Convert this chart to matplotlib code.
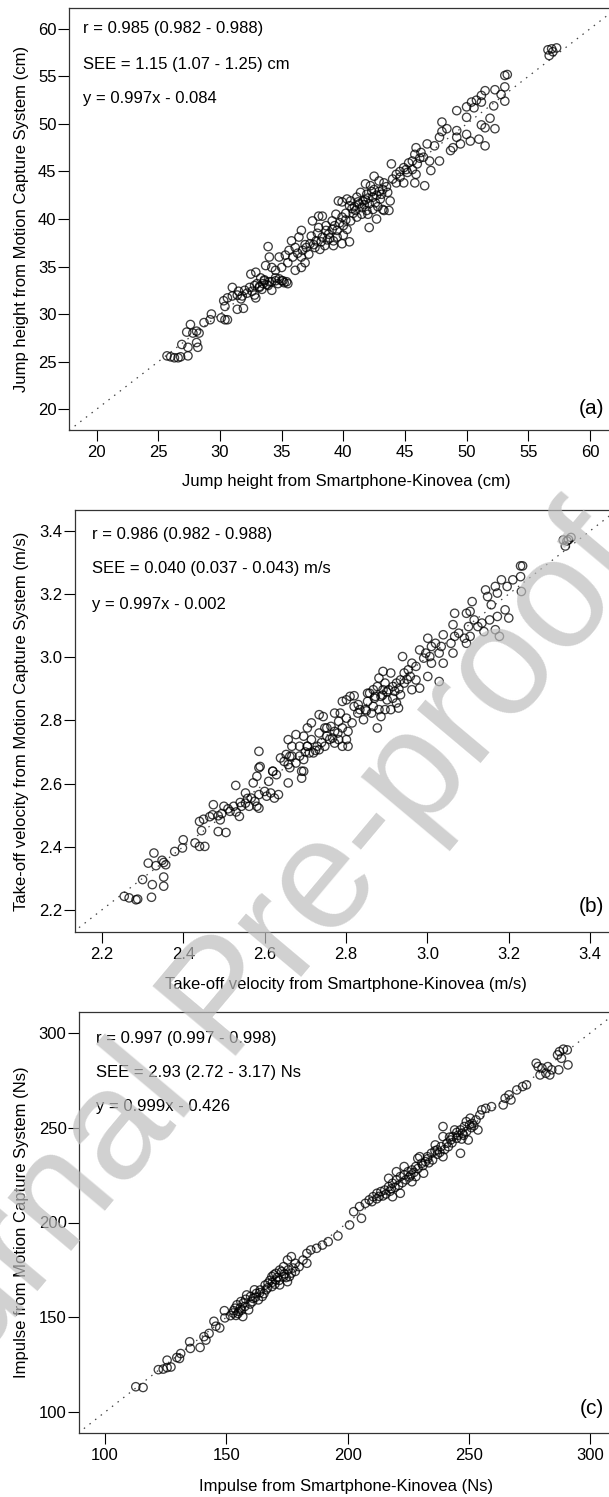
import numpy as np
import matplotlib
matplotlib.use("Agg")
import matplotlib.pyplot as plt

plt.rcParams["font.family"] = ["Liberation Sans", "DejaVu Sans"]

W, H = 609, 1497   # output size in px (dpi 100)

# ── data (x = Smartphone-Kinovea, y = Motion Capture) ──
jump_pts = [
    (25.7, 25.6), (26.0, 25.5), (26.3, 25.4), (26.6, 25.4), (26.8, 25.5), (27.4, 25.6),
    (26.9, 26.8), (27.4, 26.5), (28.1, 27.0), (28.2, 26.5),
    (27.3, 28.1), (27.6, 28.9), (27.8, 28.0), (28.1, 28.2), (28.3, 28.0),
    (28.7, 29.1), (29.3, 30.0), (29.2, 29.4), (30.1, 29.6), (30.4, 29.4), (30.6, 29.4),
    (30.3, 31.4), (30.4, 30.8), (30.6, 31.7), (31.0, 31.9), (31.0, 32.8), (31.4, 32.0),
    (31.4, 30.5), (31.9, 30.6), (31.5, 32.4), (31.8, 31.9), (32.2, 32.2), (32.4, 32.8),
    (32.8, 32.0), (32.9, 31.7), (31.7, 31.6), (32.0, 32.5), (32.6, 32.4),
    (33.0, 33.2), (33.2, 32.9), (33.3, 33.8), (33.5, 33.2), (33.6, 33.6), (33.8, 33.1),
    (34.0, 33.4), (34.2, 32.5), (34.5, 33.8), (34.8, 33.7), (35.0, 33.5), (35.2, 33.3),
    (35.4, 33.4), (33.6, 33.5), (34.2, 33.4), (34.5, 33.5), (35.1, 33.5), (35.5, 33.2),
    (32.8, 33.0), (33.2, 32.8), (33.9, 33.0), (34.7, 33.2), (33.4, 32.6),
    (33.9, 37.1), (33.7, 35.1), (34.0, 36.0), (34.2, 34.9), (34.5, 34.6), (35.0, 34.9),
    (35.5, 35.4), (35.3, 36.2), (34.8, 36.0), (32.9, 34.4), (32.5, 34.2), (36.1, 34.6),
    (36.6, 34.9), (36.9, 35.4),
    (35.6, 36.7), (35.8, 37.7), (36.1, 37.0), (36.7, 36.7), (37.2, 36.3), (35.9, 36.0),
    (36.6, 36.0), (36.4, 38.1), (36.6, 38.8), (36.3, 36.4), (36.9, 37.3),
    (37.0, 37.0), (37.3, 37.4), (37.7, 37.0), (38.1, 36.8), (38.5, 37.2), (37.8, 37.7),
    (38.3, 38.1), (38.8, 38.4), (39.2, 37.7), (39.2, 37.2), (39.9, 37.4), (40.5, 37.6),
    (39.5, 38.1), (40.0, 38.3), (38.0, 39.1), (38.6, 38.8), (37.5, 39.8), (38.0, 40.3),
    (38.3, 40.3), (39.4, 40.5), (39.9, 40.2), (39.1, 39.8), (38.6, 39.3), (39.1, 38.9),
    (39.5, 38.8), (40.0, 39.3), (40.3, 38.9), (37.9, 38.5), (38.9, 38.0), (37.4, 38.2),
    (37.6, 37.3), (38.2, 37.6), (38.7, 37.8), (39.7, 39.6), (40.2, 39.9), (39.3, 39.3),
    (39.6, 41.9), (39.9, 41.8), (40.3, 42.1), (40.5, 41.4), (40.6, 41.9), (41.0, 40.9),
    (41.1, 42.3), (41.4, 42.8), (41.5, 40.5), (41.6, 41.9), (41.1, 40.2), (40.6, 39.8),
    (41.9, 42.6), (41.9, 40.9), (42.1, 41.6), (42.1, 39.1), (42.4, 42.3), (42.4, 41.0),
    (42.6, 41.7), (42.7, 40.0), (43.0, 42.1), (43.2, 43.1), (43.2, 41.0), (43.3, 43.8),
    (43.3, 40.9), (43.6, 42.8), (43.7, 40.9), (43.8, 41.9), (42.9, 44.0), (42.5, 44.5),
    (41.8, 43.7), (42.2, 43.5), (40.9, 41.3), (41.3, 41.6), (41.8, 42.0), (42.0, 42.2),
    (42.7, 42.5), (42.3, 42.9), (41.5, 41.2), (40.8, 40.6), (42.9, 42.9), (43.5, 43.4),
    (40.2, 40.6), (41.2, 41.8), (42.0, 40.5), (42.8, 41.3), (43.1, 42.6), (41.7, 41.5),
    (40.7, 41.1), (42.5, 43.1),
    (43.9, 45.8), (44.3, 44.7), (44.3, 43.8), (44.6, 44.4), (44.9, 45.4), (44.9, 43.8),
    (45.1, 45.2), (45.2, 44.9), (45.6, 45.2), (45.9, 44.7), (45.8, 43.8), (44.0, 44.2),
    (44.6, 45.0), (45.3, 45.9),
    (45.9, 47.5), (46.3, 47.0), (46.8, 47.9), (45.6, 46.1), (46.0, 45.8), (46.5, 46.5),
    (47.0, 46.1), (47.1, 45.1), (46.6, 43.5), (47.8, 46.1), (46.2, 46.4), (45.8, 46.8),
    (47.4, 47.7), (47.8, 48.6), (48.0, 50.2), (48.0, 49.2), (48.4, 49.5), (48.7, 47.2),
    (48.9, 47.5), (49.2, 48.6), (49.2, 49.3), (49.2, 51.4), (49.5, 47.9), (50.0, 48.9),
    (50.0, 50.7), (50.0, 51.8), (50.3, 48.2), (50.4, 52.3), (50.6, 51.7), (50.8, 52.5),
    (51.0, 48.4), (51.2, 49.9), (51.2, 52.3), (51.2, 53.0), (51.5, 53.5), (51.5, 49.6),
    (51.5, 47.7), (51.9, 50.6), (52.2, 51.9), (52.3, 53.6), (52.3, 49.5), (52.8, 53.1),
    (53.1, 53.9), (53.1, 52.4), (53.1, 55.1), (53.3, 55.2),
    (56.6, 57.8), (56.9, 57.9), (57.3, 58.0), (56.7, 57.2), (57.0, 57.6),
]

velocity_pts = [
    (2.255, 2.243), (2.267, 2.238), (2.284, 2.232), (2.288, 2.234), (2.322, 2.240),
    (2.300, 2.296), (2.324, 2.280), (2.352, 2.275), (2.352, 2.304), (2.314, 2.348),
    (2.328, 2.380), (2.333, 2.340), (2.348, 2.357), (2.357, 2.343), (2.352, 2.350),
    (2.379, 2.385), (2.400, 2.422), (2.398, 2.396), (2.429, 2.412), (2.440, 2.401),
    (2.453, 2.401), (2.445, 2.451), (2.440, 2.480), (2.450, 2.487), (2.472, 2.501),
    (2.486, 2.448), (2.505, 2.445), (2.474, 2.533), (2.486, 2.498), (2.491, 2.485),
    (2.500, 2.528), (2.515, 2.512), (2.524, 2.528), (2.538, 2.496), (2.543, 2.528),
    (2.529, 2.594), (2.553, 2.570), (2.553, 2.538), (2.567, 2.554), (2.576, 2.544),
    (2.562, 2.528), (2.581, 2.528), (2.586, 2.565), (2.605, 2.560), (2.586, 2.522),
    (2.572, 2.602), (2.581, 2.623), (2.586, 2.702), (2.589, 2.654), (2.610, 2.607),
    (2.615, 2.570), (2.624, 2.554), (2.634, 2.565), (2.620, 2.639), (2.629, 2.628),
    (2.658, 2.602), (2.691, 2.617), (2.658, 2.660), (2.648, 2.670), (2.662, 2.686),
    (2.677, 2.665), (2.691, 2.639), (2.696, 2.676), (2.710, 2.697), (2.720, 2.697),
    (2.734, 2.707), (2.705, 2.718), (2.495, 2.505), (2.510, 2.520), (2.465, 2.495),
    (2.530, 2.510), (2.558, 2.553), (2.600, 2.575),
    (2.653, 2.692), (2.667, 2.687), (2.639, 2.681), (2.662, 2.650), (2.686, 2.687),
    (2.696, 2.639), (2.667, 2.718), (2.658, 2.739), (2.677, 2.755), (2.686, 2.718),
    (2.696, 2.750), (2.705, 2.718), (2.715, 2.739), (2.705, 2.776), (2.715, 2.792),
    (2.734, 2.760), (2.729, 2.718), (2.748, 2.718), (2.734, 2.818), (2.744, 2.812),
    (2.748, 2.776), (2.753, 2.750), (2.767, 2.744), (2.772, 2.728), (2.782, 2.739),
    (2.791, 2.718), (2.801, 2.739), (2.805, 2.718), (2.753, 2.776), (2.763, 2.781),
    (2.772, 2.765), (2.791, 2.776), (2.805, 2.765), (2.782, 2.797), (2.772, 2.823),
    (2.786, 2.823), (2.801, 2.807), (2.815, 2.792), (2.791, 2.860), (2.801, 2.865),
    (2.810, 2.876), (2.820, 2.878), (2.820, 2.844), (2.829, 2.823), (2.834, 2.834),
    (2.843, 2.802), (2.848, 2.834), (2.853, 2.860), (2.853, 2.886), (2.858, 2.886),
    (2.863, 2.823), (2.867, 2.844), (2.867, 2.897), (2.872, 2.876), (2.877, 2.907),
    (2.877, 2.776), (2.881, 2.834), (2.881, 2.934), (2.886, 2.812), (2.886, 2.876),
    (2.891, 2.955), (2.891, 2.897), (2.896, 2.918), (2.896, 2.834), (2.901, 2.865),
    (2.905, 2.897), (2.910, 2.950), (2.910, 2.834), (2.915, 2.907), (2.915, 2.870),
    (2.920, 2.892), (2.924, 2.918), (2.924, 2.855), (2.929, 2.839), (2.934, 2.928),
    (2.934, 2.881), (2.939, 3.002), (2.943, 2.950), (2.943, 2.918), (2.953, 2.960),
    (2.958, 2.939), (2.962, 2.981), (2.962, 2.897), (2.972, 2.971), (2.972, 2.928),
    (2.981, 3.023), (2.981, 2.902), (2.991, 2.997), (2.996, 3.013), (3.001, 3.060),
    (3.001, 2.939), (3.006, 3.002), (3.010, 3.034), (3.010, 2.981), (3.020, 3.044),
    (3.029, 3.013), (3.029, 2.923), (3.034, 3.034), (3.039, 3.071), (3.039, 2.981),
    (3.058, 3.044), (3.063, 3.013), (3.063, 3.103), (3.067, 3.066), (3.067, 3.139),
    (3.077, 3.076), (3.091, 3.060), (3.096, 3.139), (3.096, 3.044), (3.101, 3.097),
    (3.105, 3.145), (3.105, 3.066), (3.110, 3.176), (3.115, 3.118), (3.124, 3.097),
    (3.134, 3.108), (3.139, 3.081), (3.143, 3.213), (3.148, 3.192), (3.153, 3.118),
    (3.157, 3.166), (3.167, 3.224), (3.167, 3.087), (3.172, 3.203), (3.172, 3.129),
    (3.177, 3.066), (3.182, 3.245), (3.191, 3.150), (3.196, 3.224), (3.200, 3.124),
    (3.210, 3.245), (3.229, 3.289), (3.234, 3.289), (3.229, 3.255), (3.231, 3.208),
    (3.334, 3.371), (3.343, 3.368), (3.353, 3.379), (3.339, 3.352), (3.347, 3.372),
    (2.586, 2.650), (2.620, 2.639), (2.540, 2.540), (2.700, 2.700), (2.725, 2.705),
    (2.740, 2.730), (2.760, 2.740), (2.780, 2.760), (2.830, 2.850), (2.850, 2.830),
    (2.870, 2.870), (2.890, 2.880), (2.900, 2.890), (2.930, 2.900), (2.950, 2.930),
]

impulse_pts = [
    (112.7, 113.4), (115.7, 113.0), (122.0, 122.4), (124.0, 122.7), (125.6, 123.5),
    (127.2, 123.8), (125.6, 127.4), (129.6, 128.8), (131.2, 130.9), (130.7, 128.3),
    (134.9, 137.1), (135.2, 133.6), (139.2, 134.1), (140.8, 139.8), (142.9, 141.5),
    (141.6, 138.0), (144.9, 147.9), (145.7, 145.3), (147.3, 144.4), (149.2, 153.5),
    (149.4, 149.7), (151.7, 150.9), (152.8, 152.3), (153.6, 154.8), (154.4, 156.6),
    (155.2, 153.1), (156.0, 158.3), (157.6, 155.7), (159.2, 153.9), (156.8, 150.4),
    (160.0, 161.0), (160.8, 158.3), (162.4, 162.6), (163.2, 159.2), (164.8, 161.0),
    (166.4, 164.5), (167.2, 168.0), (168.8, 166.2), (170.4, 169.7), (172.0, 167.1),
    (173.6, 171.5), (175.2, 168.8), (176.8, 173.3), (178.4, 174.2), (169.6, 172.4),
    (172.8, 174.1), (161.6, 164.5), (158.4, 161.8),
    (153.0, 153.5), (154.8, 152.0), (155.8, 155.0), (157.0, 157.5), (158.0, 159.5),
    (159.8, 157.0), (161.0, 160.0), (163.8, 163.0), (165.5, 162.5), (167.0, 165.5),
    (168.0, 169.5), (170.0, 167.5), (171.0, 171.0), (174.0, 173.0), (175.5, 175.0),
    (177.5, 176.0), (154.0, 151.0), (156.3, 153.8), (162.0, 160.6), (164.0, 164.4),
    (166.0, 167.0), (169.0, 168.5), (171.8, 169.5), (174.6, 171.0),
    (178.4, 178.5), (176.8, 182.0), (175.2, 180.2), (173.6, 176.7), (172.0, 174.9),
    (170.4, 173.2), (168.8, 171.5), (181.6, 180.2), (183.2, 178.5), (180.0, 176.7),
    (176.0, 171.5), (183.2, 183.7), (184.8, 185.5), (187.2, 186.4), (189.6, 188.1),
    (192.0, 189.9), (196.0, 192.9), (200.8, 198.7),
    (202.5, 205.7), (204.9, 208.4), (205.7, 202.2), (207.3, 210.1), (208.9, 211.9),
    (210.5, 213.6), (212.1, 215.4), (213.7, 216.3), (215.3, 217.1), (216.9, 218.9),
    (218.5, 220.7), (220.1, 222.4), (221.7, 224.2), (223.3, 225.1), (224.9, 226.8),
    (226.5, 227.7), (228.1, 229.5), (230.5, 231.2), (229.7, 234.7), (232.1, 232.1),
    (232.9, 234.7), (234.5, 236.5), (236.1, 240.9), (236.9, 238.3), (238.5, 240.0),
    (239.3, 245.3), (240.9, 241.8), (242.5, 243.5), (243.3, 245.3), (244.1, 248.8),
    (244.9, 244.4), (246.5, 248.8), (247.3, 247.1), (248.1, 250.6), (248.9, 253.2),
    (250.5, 255.0), (251.3, 252.3), (252.9, 254.1), (254.5, 256.7), (255.3, 259.4),
    (256.9, 260.2), (259.3, 261.1),
    (216.9, 223.3), (220.1, 226.8), (223.3, 229.5), (228.9, 233.8), (226.5, 221.5),
    (221.7, 215.4), (218.5, 213.6), (228.1, 224.2), (231.3, 226.0), (239.3, 234.7),
    (246.5, 236.5), (249.7, 243.5), (253.7, 248.8), (239.3, 250.6),
    (210.0, 211.0), (212.0, 212.5), (214.5, 214.0), (217.5, 216.5), (219.5, 218.5),
    (222.5, 221.0), (224.0, 222.5), (226.0, 225.0), (229.0, 228.5), (231.0, 230.0),
    (233.5, 231.5), (235.0, 233.0), (237.0, 236.0), (240.0, 238.5), (241.5, 240.0),
    (243.0, 242.0), (245.5, 246.0), (247.0, 244.0), (249.0, 248.0), (251.0, 250.0),
    (213.0, 213.8), (215.8, 215.0), (218.0, 217.8), (221.0, 219.6), (225.5, 224.0),
    (227.3, 226.4), (233.0, 233.6), (236.0, 237.8), (238.0, 237.0), (242.0, 245.0),
    (245.0, 247.5), (247.8, 246.0), (250.2, 251.5), (252.0, 251.0),
    (264.1, 262.0), (264.9, 265.5), (266.5, 267.3), (267.3, 264.6), (269.7, 269.9),
    (272.1, 271.7), (273.7, 272.6),
    (277.7, 284.0), (278.5, 282.2), (279.3, 277.8), (280.1, 281.4), (281.7, 278.7),
    (282.5, 282.2), (283.3, 277.8), (284.1, 280.5), (286.5, 288.4), (287.0, 280.5),
    (287.3, 290.1), (288.1, 286.6), (288.9, 291.4), (290.5, 291.0), (290.8, 283.1),
]

jump_stats = ["r = 0.985 (0.982 - 0.988)", "SEE = 1.15 (1.07 - 1.25) cm", "y = 0.997x - 0.084"]
velocity_stats = ["r = 0.986 (0.982 - 0.988)", "SEE = 0.040 (0.037 - 0.043) m/s", "y = 0.997x - 0.002"]
impulse_stats = ["r = 0.997 (0.997 - 0.998)", "SEE = 2.93 (2.72 - 3.17) Ns", "y = 0.999x - 0.426"]

jump_ticks = [20, 25, 30, 35, 40, 45, 50, 55, 60]
velocity_ticks = [2.2, 2.4, 2.6, 2.8, 3.0, 3.2, 3.4]
impulse_ticks = [100, 150, 200, 250, 300]


def fx(px):
    return px / W


def fy(py):
    return 1 - py / H


panels = [
    dict(pts=jump_pts, stats=jump_stats, ticks=jump_ticks, fmt="{:.0f}",
         lim_x=(17.75, 62.2), lim_y=(17.8, 62.2),
         box=(69, 8, 430), text_x=83, text_y=(29, 64, 98),
         tag="(a)", tag_y=408, xlab_y=482,
         xlab="Jump height from Smartphone-Kinovea (cm)",
         ylab="Jump height from Motion Capture System (cm)"),
    dict(pts=velocity_pts, stats=velocity_stats, ticks=velocity_ticks, fmt="{:.1f}",
         lim_x=(2.134, 3.466), lim_y=(2.13, 3.466),
         box=(75, 510, 932), text_x=92, text_y=(535, 569, 604),
         tag="(b)", tag_y=907, xlab_y=985,
         xlab="Take-off velocity from Smartphone-Kinovea (m/s)",
         ylab="Take-off velocity from Motion Capture System (m/s)"),
    dict(pts=impulse_pts, stats=impulse_stats, ticks=impulse_ticks, fmt="{:.0f}",
         lim_x=(89.3, 311.0), lim_y=(89.0, 311.0),
         box=(79, 1012, 1433), text_x=96, text_y=(1039, 1073, 1107),
         tag="(c)", tag_y=1408, xlab_y=1487,
         xlab="Impulse from Smartphone-Kinovea (Ns)",
         ylab="Impulse from Motion Capture System (Ns)"),
]

fig = plt.figure(figsize=(W / 100, H / 100), dpi=100)

for p in panels:
    left, top, bottom = p["box"]
    right = 617   # right frame sits just beyond the image edge
    ax = fig.add_axes([fx(left), fy(bottom), (right - left) / W, (bottom - top) / H])
    xy = np.array(p["pts"])
    lo = min(p["lim_x"][0], p["lim_y"][0])
    hi = max(p["lim_x"][1], p["lim_y"][1])
    ax.plot([lo, hi], [lo, hi], color="#444444", lw=0.9, ls=(0, (1.2, 4.5)), zorder=1)
    ax.scatter(xy[:, 0], xy[:, 1], s=36, facecolors="none", edgecolors="black",
               linewidths=0.95, alpha=0.75, zorder=2)
    ax.set_xlim(*p["lim_x"])
    ax.set_ylim(*p["lim_y"])
    ax.set_xticks(p["ticks"])
    ax.set_yticks(p["ticks"])
    ax.set_xticklabels([p["fmt"].format(t) for t in p["ticks"]])
    ax.set_yticklabels([p["fmt"].format(t) for t in p["ticks"]])
    ax.tick_params(axis="both", direction="out", length=8, width=0.8,
                   labelsize=12, colors="black")
    ax.tick_params(axis="y", pad=1)
    ax.tick_params(axis="x", pad=3)
    for s in ax.spines.values():
        s.set_color("#333333")
        s.set_linewidth(0.9)

    for txt, ty in zip(p["stats"], p["text_y"]):
        fig.text(fx(p["text_x"]), fy(ty), txt, fontsize=12, ha="left", va="center")
    fig.text(fx(604), fy(p["tag_y"]), p["tag"], fontsize=15, ha="right", va="center")
    fig.text(fx(346), fy(p["xlab_y"]), p["xlab"], fontsize=12, ha="center", va="center")
    fig.text(fx(22), fy((top + bottom) / 2), p["ylab"], fontsize=12,
             rotation=90, ha="center", va="center")

# "Journal Pre-proof" watermark laid over the lower two panels
fig.text(fx(228), fy(1002), "Journal Pre-proof", fontsize=113, color="#bdbdbd",
         alpha=0.7, rotation=50, rotation_mode="anchor", ha="center", va="center",
         zorder=10)

fig.savefig("out.png", dpi=100)
